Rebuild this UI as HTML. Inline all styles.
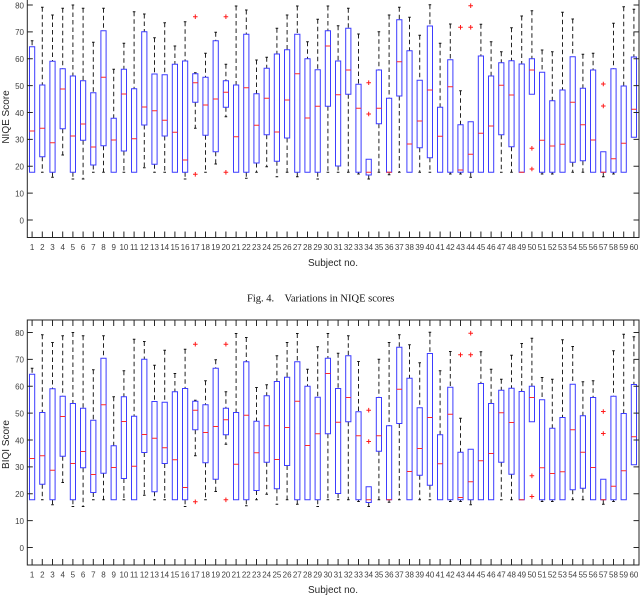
<!DOCTYPE html>
<html><head><meta charset="utf-8"><style>
html,body{margin:0;padding:0;background:#fff;}
svg{display:block;}
.t{font-family:"Liberation Sans",Arial,sans-serif;font-size:8px;fill:#404040;}
.l{font-family:"Liberation Sans",Arial,sans-serif;font-size:10px;fill:#262626;}
.c{font-family:"Liberation Serif","Times New Roman",serif;font-size:10.5px;fill:#111;}
</style></head><body>
<svg width="640" height="595" viewBox="0 0 640 595" xmlns="http://www.w3.org/2000/svg">
<defs>
<path id="xt" d="M32.1 0v6M42.3 0v6M52.5 0v6M62.7 0v6M72.9 0v6M83.1 0v6M93.3 0v6M103.5 0v6M113.7 0v6M123.9 0v6M134.1 0v6M144.3 0v6M154.5 0v6M164.7 0v6M174.9 0v6M185.1 0v6M195.3 0v6M205.5 0v6M215.7 0v6M225.9 0v6M236.1 0v6M246.3 0v6M256.5 0v6M266.7 0v6M276.9 0v6M287.1 0v6M297.3 0v6M307.5 0v6M317.7 0v6M327.9 0v6M338.1 0v6M348.3 0v6M358.5 0v6M368.7 0v6M378.9 0v6M389.1 0v6M399.3 0v6M409.5 0v6M419.7 0v6M429.9 0v6M440.1 0v6M450.3 0v6M460.5 0v6M470.7 0v6M480.9 0v6M491.1 0v6M501.3 0v6M511.5 0v6M521.7 0v6M531.9 0v6M542.1 0v6M552.3 0v6M562.5 0v6M572.7 0v6M582.9 0v6M593.1 0v6M603.3 0v6M613.5 0v6M623.7 0v6M633.9 0v6" stroke="#262626" stroke-width="1" fill="none"/>
<path id="yt" d="M27.3 5h5.5M27.3 31.9h5.5M27.3 58.75h5.5M27.3 85.6h5.5M27.3 112.5h5.5M27.3 139.4h5.5M27.3 166.25h5.5M27.3 193.1h5.5M27.3 220h5.5M639 5h-5.5M639 31.9h-5.5M639 58.75h-5.5M639 85.6h-5.5M639 112.5h-5.5M639 139.4h-5.5M639 166.25h-5.5M639 193.1h-5.5M639 220h-5.5" stroke="#262626" stroke-width="1" fill="none"/>
<g id="data">
<path fill="none" stroke="#222" stroke-width="1" stroke-dasharray="4.5,3" d="M32.1 40.7V46.7M42.3 7.3V85M42.3 156.7V172.3M52.5 15V61.3M52.5 172.3V177.3M62.7 8.3V68.7M62.7 128.7V155M72.9 5V76M72.9 172.3V179M83.1 8.3V80.7M83.1 140.3V179M93.3 42.3V92.7M93.3 165V172.3M103.5 8.3V30.7M103.5 145.7V172.3M113.7 69.3V118.3M123.9 43.3V69.3M123.9 151V172.3M134.1 11.7V88.7M144.3 14V31.7M144.3 125V167.7M154.5 37.7V74M154.5 164.3V172.3M164.7 22.7V74.7M164.7 136V172.3M174.9 46V64.3M185.1 21.7V61M185.1 172.3V179M195.3 72.7V73.7M195.3 102.3V128.3M205.5 53.3V77.3M205.5 135.3V172.3M215.7 32.3V40.7M215.7 151.7V164M225.9 64.3V80.7M225.9 107.3V116.7M236.1 6V85M246.3 10V34.3M246.3 172.3V178.3M256.5 60V93.7M256.5 163V172.3M266.7 57.3V68.3M266.7 134.7V166.7M276.9 28.3V54M276.9 161.3V176.7M287.1 15V49.7M287.1 138V172.3M297.3 6V34.3M297.3 172.3V176.7M307.5 41.7V58.7M317.7 19.3V69.7M317.7 172.3V179M327.9 6V30.7M327.9 106.3V172.3M338.1 25.7V61M338.1 166V172.3M348.3 8.3V28.3M348.3 94.3V172.3M358.5 34V84.3M358.5 172.3V174M368.7 175V179M378.9 31.7V70M378.9 123.7V172.3M389.1 15V98.3M389.1 172.3V174.7M399.3 7.3V19.7M399.3 96V172.3M409.5 17.3V50.7M419.7 35.3V80.3M419.7 147.7V172.3M429.9 4.7V26M429.9 157.7V172.3M440.1 43.3V107.3M450.3 24V59.7M450.3 172.3V174M460.5 90.7V124.7M460.5 172.3V174M470.7 172.3V177.3M480.9 24.3V56M491.1 41.7V76M501.3 51.7V62.7M501.3 134.7V172.3M511.5 27.7V60.7M511.5 146.7V172.3M521.7 16V64M531.9 10.7V58.7M542.1 50V72.3M542.1 172.3V174M552.3 51.7V100.7M552.3 172.3V174M562.5 12.3V90M572.7 19V56.7M572.7 162.3V172.3M582.9 54.3V88.3M582.9 160.7V172.3M593.1 53.3V70M603.3 172.3V176.7M613.5 23.3V68.7M613.5 172.3V174M623.7 6.7V86M633.9 9.3V57"/>
<path fill="none" stroke="#111" stroke-width="1" d="M30.8 40.7h2.6M41 7.3h2.6M41 172.3h2.6M51.2 15h2.6M51.2 177.3h2.6M61.4 8.3h2.6M61.4 155h2.6M71.6 5h2.6M71.6 179h2.6M81.8 8.3h2.6M81.8 179h2.6M92 42.3h2.6M92 172.3h2.6M102.2 8.3h2.6M102.2 172.3h2.6M112.4 69.3h2.6M122.6 43.3h2.6M122.6 172.3h2.6M132.8 11.7h2.6M143 14h2.6M143 167.7h2.6M153.2 37.7h2.6M153.2 172.3h2.6M163.4 22.7h2.6M163.4 172.3h2.6M173.6 46h2.6M183.8 21.7h2.6M183.8 179h2.6M194 72.7h2.6M194 128.3h2.6M204.2 53.3h2.6M204.2 172.3h2.6M214.4 32.3h2.6M214.4 164h2.6M224.6 64.3h2.6M224.6 116.7h2.6M234.8 6h2.6M245 10h2.6M245 178.3h2.6M255.2 60h2.6M255.2 172.3h2.6M265.4 57.3h2.6M265.4 166.7h2.6M275.6 28.3h2.6M275.6 176.7h2.6M285.8 15h2.6M285.8 172.3h2.6M296 6h2.6M296 176.7h2.6M306.2 41.7h2.6M316.4 19.3h2.6M316.4 179h2.6M326.6 6h2.6M326.6 172.3h2.6M336.8 25.7h2.6M336.8 172.3h2.6M347 8.3h2.6M347 172.3h2.6M357.2 34h2.6M357.2 174h2.6M367.4 179h2.6M377.6 31.7h2.6M377.6 172.3h2.6M387.8 15h2.6M387.8 174.7h2.6M398 7.3h2.6M398 172.3h2.6M408.2 17.3h2.6M418.4 35.3h2.6M418.4 172.3h2.6M428.6 4.7h2.6M428.6 172.3h2.6M438.8 43.3h2.6M449 24h2.6M449 174h2.6M459.2 90.7h2.6M459.2 174h2.6M469.4 177.3h2.6M479.6 24.3h2.6M489.8 41.7h2.6M500 51.7h2.6M500 172.3h2.6M510.2 27.7h2.6M510.2 172.3h2.6M520.4 16h2.6M530.6 10.7h2.6M540.8 50h2.6M540.8 174h2.6M551 51.7h2.6M551 174h2.6M561.2 12.3h2.6M571.4 19h2.6M571.4 172.3h2.6M581.6 54.3h2.6M581.6 172.3h2.6M591.8 53.3h2.6M602 176.7h2.6M612.2 23.3h2.6M612.2 174h2.6M622.4 6.7h2.6M632.6 9.3h2.6"/>
<path fill="#fff" stroke="#3c3cff" stroke-width="1" d="M29.5 46.7h5.2V172.3h-5.2ZM39.7 85h5.2V156.7h-5.2ZM49.9 61.3h5.2V172.3h-5.2ZM60.1 68.7h5.2V128.7h-5.2ZM70.3 76h5.2V172.3h-5.2ZM80.5 80.7h5.2V140.3h-5.2ZM90.7 92.7h5.2V165h-5.2ZM100.9 30.7h5.2V145.7h-5.2ZM111.1 118.3h5.2V172.3h-5.2ZM121.3 69.3h5.2V151h-5.2ZM131.5 88.7h5.2V172.3h-5.2ZM141.7 31.7h5.2V125h-5.2ZM151.9 74h5.2V164.3h-5.2ZM162.1 74.7h5.2V136h-5.2ZM172.3 64.3h5.2V172.3h-5.2ZM182.5 61h5.2V172.3h-5.2ZM192.7 73.7h5.2V102.3h-5.2ZM202.9 77.3h5.2V135.3h-5.2ZM213.1 40.7h5.2V151.7h-5.2ZM223.3 80.7h5.2V107.3h-5.2ZM233.5 85h5.2V172.3h-5.2ZM243.7 34.3h5.2V172.3h-5.2ZM253.9 93.7h5.2V163h-5.2ZM264.1 68.3h5.2V134.7h-5.2ZM274.3 54h5.2V161.3h-5.2ZM284.5 49.7h5.2V138h-5.2ZM294.7 34.3h5.2V172.3h-5.2ZM304.9 58.7h5.2V172.3h-5.2ZM315.1 69.7h5.2V172.3h-5.2ZM325.3 30.7h5.2V106.3h-5.2ZM335.5 61h5.2V166h-5.2ZM345.7 28.3h5.2V94.3h-5.2ZM355.9 84.3h5.2V172.3h-5.2ZM366.1 159.3h5.2V175h-5.2ZM376.3 70h5.2V123.7h-5.2ZM386.5 98.3h5.2V172.3h-5.2ZM396.7 19.7h5.2V96h-5.2ZM406.9 50.7h5.2V172.3h-5.2ZM417.1 80.3h5.2V147.7h-5.2ZM427.3 26h5.2V157.7h-5.2ZM437.5 107.3h5.2V172.3h-5.2ZM447.7 59.7h5.2V172.3h-5.2ZM457.9 124.7h5.2V172.3h-5.2ZM468.1 121.7h5.2V172.3h-5.2ZM478.3 56h5.2V172.3h-5.2ZM488.5 76h5.2V172.3h-5.2ZM498.7 62.7h5.2V134.7h-5.2ZM508.9 60.7h5.2V146.7h-5.2ZM519.1 64h5.2V172.3h-5.2ZM529.3 58.7h5.2V94.3h-5.2ZM539.5 72.3h5.2V172.3h-5.2ZM549.7 100.7h5.2V172.3h-5.2ZM559.9 90h5.2V172.3h-5.2ZM570.1 56.7h5.2V162.3h-5.2ZM580.3 88.3h5.2V160.7h-5.2ZM590.5 70h5.2V172.3h-5.2ZM600.7 151.7h5.2V172.3h-5.2ZM610.9 68.7h5.2V172.3h-5.2ZM621.1 86h5.2V172.3h-5.2ZM631.3 57h5.2V137.3h-5.2Z"/>
<path fill="none" stroke="#ff2a2a" stroke-width="1" d="M29.5 131h5.2M39.7 128.3h5.2M49.9 142.7h5.2M60.1 89h5.2M70.3 136h5.2M80.5 124h5.2M90.7 147h5.2M100.9 77.3h5.2M111.1 140h5.2M121.3 94h5.2M131.5 138.7h5.2M141.7 107h5.2M151.9 110.7h5.2M162.1 120.3h5.2M172.3 132.3h5.2M182.5 160h5.2M192.7 82.7h5.2M202.9 105h5.2M213.1 99h5.2M223.3 92.3h5.2M233.5 136.7h5.2M243.7 87.7h5.2M253.9 125.3h5.2M264.1 98.3h5.2M274.3 132h5.2M284.5 100h5.2M294.7 73.7h5.2M304.9 118h5.2M315.1 106.3h5.2M325.3 46h5.2M335.5 94.7h5.2M345.7 70h5.2M355.9 108.3h5.2M366.1 172.3h5.2M376.3 108.3h5.2M386.5 172.3h5.2M396.7 61.7h5.2M406.9 144h5.2M417.1 121h5.2M427.3 90h5.2M437.5 136.3h5.2M447.7 86.7h5.2M457.9 170h5.2M468.1 154.3h5.2M478.3 133.3h5.2M488.5 126h5.2M498.7 85.3h5.2M508.9 95h5.2M519.1 172.3h5.2M529.3 70h5.2M539.5 140.3h5.2M549.7 146h5.2M559.9 144.3h5.2M570.1 102.3h5.2M580.3 124.7h5.2M590.5 140h5.2M600.7 172.3h5.2M610.9 158.7h5.2M621.1 143.3h5.2M631.3 109.3h5.2"/>
<path fill="none" stroke="#ff1a1a" stroke-width="1" d="M193 16.7h4.6M195.3 14.4v4.6M193 174.3h4.6M195.3 172v4.6M223.6 16.7h4.6M225.9 14.4v4.6M223.6 172.3h4.6M225.9 170v4.6M366.4 82.7h4.6M368.7 80.4v4.6M366.4 114h4.6M368.7 111.7v4.6M458.2 27.3h4.6M460.5 25v4.6M468.4 5.7h4.6M470.7 3.4v4.6M468.4 27.3h4.6M470.7 25v4.6M529.6 148.3h4.6M531.9 146v4.6M529.6 169h4.6M531.9 166.7v4.6M601 84h4.6M603.3 81.7v4.6M601 106h4.6M603.3 103.7v4.6"/>
</g>
</defs>

<!-- ===== Plot 1 (NIQE) ===== -->
<use href="#data"/>
<use href="#yt"/>
<use href="#xt" transform="translate(0,231.5)"/>
<path d="M27.3 0V237.5H639V0" fill="none" stroke="#262626" stroke-width="1"/>
<g class="t" text-anchor="end">
<text x="24" y="8.3">80</text><text x="24" y="35.2">70</text><text x="24" y="62">60</text><text x="24" y="88.9">50</text><text x="24" y="115.8">40</text><text x="24" y="142.7">30</text><text x="24" y="169.5">20</text><text x="24" y="196.4">10</text><text x="24" y="223.3">0</text>
</g>
<g class="t" text-anchor="middle">
<text x="32.1" y="250">1</text><text x="42.3" y="250">2</text><text x="52.5" y="250">3</text><text x="62.7" y="250">4</text><text x="72.9" y="250">5</text><text x="83.1" y="250">6</text><text x="93.3" y="250">7</text><text x="103.5" y="250">8</text><text x="113.7" y="250">9</text><text x="123.9" y="250">10</text><text x="134.1" y="250">11</text><text x="144.3" y="250">12</text><text x="154.5" y="250">13</text><text x="164.7" y="250">14</text><text x="174.9" y="250">15</text><text x="185.1" y="250">16</text><text x="195.3" y="250">17</text><text x="205.5" y="250">18</text><text x="215.7" y="250">19</text><text x="225.9" y="250">20</text><text x="236.1" y="250">21</text><text x="246.3" y="250">22</text><text x="256.5" y="250">23</text><text x="266.7" y="250">24</text><text x="276.9" y="250">25</text><text x="287.1" y="250">26</text><text x="297.3" y="250">27</text><text x="307.5" y="250">28</text><text x="317.7" y="250">29</text><text x="327.9" y="250">30</text><text x="338.1" y="250">31</text><text x="348.3" y="250">32</text><text x="358.5" y="250">33</text><text x="368.7" y="250">34</text><text x="378.9" y="250">35</text><text x="389.1" y="250">36</text><text x="399.3" y="250">37</text><text x="409.5" y="250">38</text><text x="419.7" y="250">39</text><text x="429.9" y="250">40</text><text x="440.1" y="250">41</text><text x="450.3" y="250">42</text><text x="460.5" y="250">43</text><text x="470.7" y="250">44</text><text x="480.9" y="250">45</text><text x="491.1" y="250">46</text><text x="501.3" y="250">47</text><text x="511.5" y="250">48</text><text x="521.7" y="250">49</text><text x="531.9" y="250">50</text><text x="542.1" y="250">51</text><text x="552.3" y="250">52</text><text x="562.5" y="250">53</text><text x="572.7" y="250">54</text><text x="582.9" y="250">55</text><text x="593.1" y="250">56</text><text x="603.3" y="250">57</text><text x="613.5" y="250">58</text><text x="623.7" y="250">59</text><text x="633.9" y="250">60</text>
</g>
<text class="l" x="333" y="266" text-anchor="middle">Subject no.</text>
<text class="l" x="9" y="117" text-anchor="middle" transform="rotate(-90 9 117)">NIQE Score</text>
<text class="c" x="247" y="301.5" xml:space="preserve">Fig. 4.    Variations in NIQE scores</text>

<!-- ===== Plot 2 (BIQI) ===== -->
<use href="#data" transform="translate(0,327.5)"/>
<use href="#yt" transform="translate(0,327.5)"/>
<use href="#xt" transform="translate(0,320)"/>
<use href="#xt" transform="translate(0,559)"/>
<rect x="27.3" y="320" width="611.7" height="245" fill="none" stroke="#262626" stroke-width="1"/>
<g class="t" text-anchor="end">
<text x="24" y="335.8">80</text><text x="24" y="362.7">70</text><text x="24" y="389.5">60</text><text x="24" y="416.4">50</text><text x="24" y="443.3">40</text><text x="24" y="470.2">30</text><text x="24" y="497">20</text><text x="24" y="523.9">10</text><text x="24" y="550.8">0</text>
</g>
<g class="t" text-anchor="middle">
<text x="32.1" y="577.7">1</text><text x="42.3" y="577.7">2</text><text x="52.5" y="577.7">3</text><text x="62.7" y="577.7">4</text><text x="72.9" y="577.7">5</text><text x="83.1" y="577.7">6</text><text x="93.3" y="577.7">7</text><text x="103.5" y="577.7">8</text><text x="113.7" y="577.7">9</text><text x="123.9" y="577.7">10</text><text x="134.1" y="577.7">11</text><text x="144.3" y="577.7">12</text><text x="154.5" y="577.7">13</text><text x="164.7" y="577.7">14</text><text x="174.9" y="577.7">15</text><text x="185.1" y="577.7">16</text><text x="195.3" y="577.7">17</text><text x="205.5" y="577.7">18</text><text x="215.7" y="577.7">19</text><text x="225.9" y="577.7">20</text><text x="236.1" y="577.7">21</text><text x="246.3" y="577.7">22</text><text x="256.5" y="577.7">23</text><text x="266.7" y="577.7">24</text><text x="276.9" y="577.7">25</text><text x="287.1" y="577.7">26</text><text x="297.3" y="577.7">27</text><text x="307.5" y="577.7">28</text><text x="317.7" y="577.7">29</text><text x="327.9" y="577.7">30</text><text x="338.1" y="577.7">31</text><text x="348.3" y="577.7">32</text><text x="358.5" y="577.7">33</text><text x="368.7" y="577.7">34</text><text x="378.9" y="577.7">35</text><text x="389.1" y="577.7">36</text><text x="399.3" y="577.7">37</text><text x="409.5" y="577.7">38</text><text x="419.7" y="577.7">39</text><text x="429.9" y="577.7">40</text><text x="440.1" y="577.7">41</text><text x="450.3" y="577.7">42</text><text x="460.5" y="577.7">43</text><text x="470.7" y="577.7">44</text><text x="480.9" y="577.7">45</text><text x="491.1" y="577.7">46</text><text x="501.3" y="577.7">47</text><text x="511.5" y="577.7">48</text><text x="521.7" y="577.7">49</text><text x="531.9" y="577.7">50</text><text x="542.1" y="577.7">51</text><text x="552.3" y="577.7">52</text><text x="562.5" y="577.7">53</text><text x="572.7" y="577.7">54</text><text x="582.9" y="577.7">55</text><text x="593.1" y="577.7">56</text><text x="603.3" y="577.7">57</text><text x="613.5" y="577.7">58</text><text x="623.7" y="577.7">59</text><text x="633.9" y="577.7">60</text>
</g>
<text class="l" x="333" y="593" text-anchor="middle">Subject no.</text>
<text class="l" x="9" y="444.5" text-anchor="middle" transform="rotate(-90 9 444.5)">BIQI Score</text>
</svg>
</body></html>
